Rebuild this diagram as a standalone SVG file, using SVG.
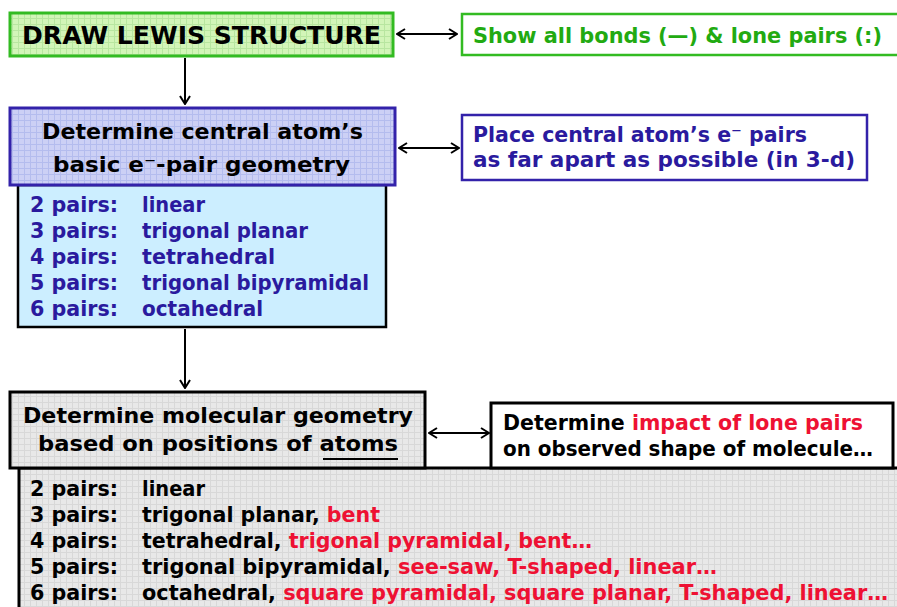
<svg xmlns="http://www.w3.org/2000/svg" width="897" height="607" viewBox="0 0 897 607">
<defs>
<pattern id="gridG" width="6" height="6" patternUnits="userSpaceOnUse"><rect width="6" height="6" fill="#d2f5b8"/><path d="M0,0.5H6M0.5,0V6" stroke="#b8e6a0" stroke-width="1"/></pattern>
<pattern id="gridB" width="6" height="6" patternUnits="userSpaceOnUse"><rect width="6" height="6" fill="#ccd0f5"/><path d="M0,0.5H6M0.5,0V6" stroke="#b4bcee" stroke-width="1"/></pattern>
<pattern id="gridGray" width="6" height="6" patternUnits="userSpaceOnUse"><rect width="6" height="6" fill="#e8e8e8"/><path d="M0,0.5H6M0.5,0V6" stroke="#d8d8d8" stroke-width="1"/></pattern>
<marker id="ah" viewBox="0 0 10 12" refX="9" refY="6" markerWidth="10" markerHeight="12" markerUnits="userSpaceOnUse" orient="auto-start-reverse"><path d="M1,1 L9,6 L1,11" fill="none" stroke="#000" stroke-width="2"/></marker>
</defs>
<style>
text{font-family:"Comic Sans MS","DejaVu Sans",sans-serif;font-weight:bold}
.blk{fill:#000}
.grn{fill:#22aa11}
.blu{fill:#2a1a9e}
.red{fill:#ee1133}
.conn{stroke:#000;stroke-width:2;fill:none}
.li{font-size:21px}
</style>
<g id="connectors">
<line class="conn" x1="397" y1="34" x2="457" y2="34" marker-start="url(#ah)" marker-end="url(#ah)"/>
<line class="conn" x1="185" y1="58" x2="185" y2="104" marker-end="url(#ah)"/>
<line class="conn" x1="399" y1="148" x2="459" y2="148" marker-start="url(#ah)" marker-end="url(#ah)"/>
<line class="conn" x1="185" y1="329" x2="185" y2="388" marker-end="url(#ah)"/>
<line class="conn" x1="429" y1="433" x2="489" y2="433" marker-start="url(#ah)" marker-end="url(#ah)"/>
</g>
<g id="lewis">
<rect x="10" y="13" width="383" height="43" fill="url(#gridG)" stroke="#33bb22" stroke-width="3"/>
<text x="22" y="44" font-size="25" class="blk" textLength="359" lengthAdjust="spacingAndGlyphs">DRAW LEWIS STRUCTURE</text>
</g>
<g id="bonds-note">
<rect x="462" y="14" width="440" height="41" fill="#fff" stroke="#33bb22" stroke-width="2.5"/>
<text x="473" y="43" font-size="21" class="grn" textLength="409" lengthAdjust="spacingAndGlyphs">Show all bonds (—) &amp; lone pairs (:)</text>
</g>
<g id="pair-list">
<rect x="18" y="185" width="368" height="142" fill="#cceeff" stroke="#000" stroke-width="2.5"/>
<text class="li blu" x="30" y="212" textLength="88" lengthAdjust="spacingAndGlyphs">2 pairs:</text>
<text class="li blu" x="142" y="212" textLength="63" lengthAdjust="spacingAndGlyphs">linear</text>
<text class="li blu" x="30" y="238" textLength="88" lengthAdjust="spacingAndGlyphs">3 pairs:</text>
<text class="li blu" x="142" y="238" textLength="166" lengthAdjust="spacingAndGlyphs">trigonal planar</text>
<text class="li blu" x="30" y="264" textLength="88" lengthAdjust="spacingAndGlyphs">4 pairs:</text>
<text class="li blu" x="142" y="264" textLength="133" lengthAdjust="spacingAndGlyphs">tetrahedral</text>
<text class="li blu" x="30" y="290" textLength="88" lengthAdjust="spacingAndGlyphs">5 pairs:</text>
<text class="li blu" x="142" y="290" textLength="227" lengthAdjust="spacingAndGlyphs">trigonal bipyramidal</text>
<text class="li blu" x="30" y="316" textLength="88" lengthAdjust="spacingAndGlyphs">6 pairs:</text>
<text class="li blu" x="142" y="316" textLength="121" lengthAdjust="spacingAndGlyphs">octahedral</text>
</g>
<g id="central">
<rect x="10" y="108" width="385" height="77" fill="url(#gridB)" stroke="#3322aa" stroke-width="3"/>
<text x="42" y="139" font-size="22" class="blk" textLength="321" lengthAdjust="spacingAndGlyphs">Determine central atom’s</text>
<text x="53" y="172" font-size="22" class="blk" textLength="297" lengthAdjust="spacingAndGlyphs">basic e⁻-pair geometry</text>
</g>
<g id="place-note">
<rect x="462" y="115" width="405" height="65" fill="#fff" stroke="#3322aa" stroke-width="2.5"/>
<text x="473" y="142" font-size="21" class="blu" textLength="334" lengthAdjust="spacingAndGlyphs">Place central atom’s e⁻ pairs</text>
<text x="473" y="167" font-size="21" class="blu" textLength="382" lengthAdjust="spacingAndGlyphs">as far apart as possible (in 3-d)</text>
</g>
<g id="shape-list">
<rect x="19" y="468" width="900" height="160" fill="url(#gridGray)" stroke="#000" stroke-width="3"/>
<text class="li blk" x="30" y="496" textLength="88" lengthAdjust="spacingAndGlyphs">2 pairs:</text>
<text class="li blk" x="142" y="496" textLength="63" lengthAdjust="spacingAndGlyphs">linear</text>
<text class="li blk" x="30" y="522" textLength="88" lengthAdjust="spacingAndGlyphs">3 pairs:</text>
<text class="li blk" x="142" y="522" textLength="238" lengthAdjust="spacingAndGlyphs">trigonal planar, <tspan class="red">bent</tspan></text>
<text class="li blk" x="30" y="548" textLength="88" lengthAdjust="spacingAndGlyphs">4 pairs:</text>
<text class="li blk" x="142" y="548" textLength="450" lengthAdjust="spacingAndGlyphs">tetrahedral, <tspan class="red">trigonal pyramidal, bent…</tspan></text>
<text class="li blk" x="30" y="574" textLength="88" lengthAdjust="spacingAndGlyphs">5 pairs:</text>
<text class="li blk" x="142" y="574" textLength="575" lengthAdjust="spacingAndGlyphs">trigonal bipyramidal, <tspan class="red">see-saw, T-shaped, linear…</tspan></text>
<text class="li blk" x="30" y="600" textLength="88" lengthAdjust="spacingAndGlyphs">6 pairs:</text>
<text class="li blk" x="142" y="600" textLength="746" lengthAdjust="spacingAndGlyphs">octahedral, <tspan class="red">square pyramidal, square planar, T-shaped, linear…</tspan></text>
</g>
<g id="molecular">
<rect x="10" y="392" width="415" height="76" fill="url(#gridGray)" stroke="#000" stroke-width="3"/>
<text x="23" y="423" font-size="22" class="blk" textLength="390" lengthAdjust="spacingAndGlyphs">Determine molecular geometry</text>
<text x="38" y="451" font-size="22" class="blk" textLength="360" lengthAdjust="spacingAndGlyphs">based on positions of atoms</text>
<line x1="323" y1="459" x2="398" y2="459" stroke="#000" stroke-width="2"/>
</g>
<g id="impact-note">
<rect x="491" y="403" width="402" height="65" fill="#fff" stroke="#000" stroke-width="3"/>
<text x="503" y="430" font-size="21" class="blk" textLength="360" lengthAdjust="spacingAndGlyphs">Determine <tspan class="red">impact of lone pairs</tspan></text>
<text x="503" y="456" font-size="21" class="blk" textLength="370" lengthAdjust="spacingAndGlyphs">on observed shape of molecule…</text>
</g>
</svg>
